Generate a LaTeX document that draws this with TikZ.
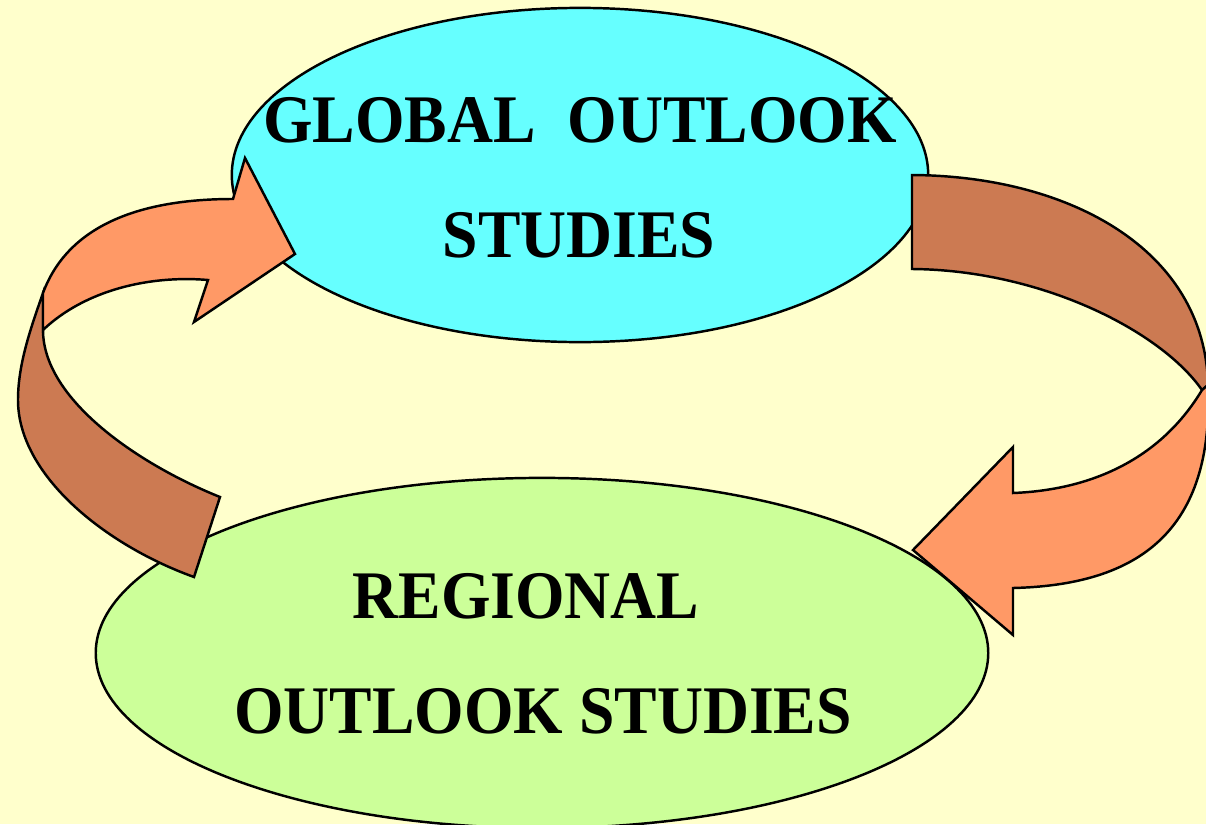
\documentclass[tikz,border=0pt]{standalone}
\usepackage{fontspec}
\setmainfont{Liberation Serif}
\usetikzlibrary{shapes.geometric}
\definecolor{bgc}{HTML}{FFFFCC}
\definecolor{globalc}{HTML}{66FFFF}
\definecolor{regionalc}{HTML}{CCFF99}
\definecolor{arrowlight}{HTML}{FF9966}
\definecolor{arrowdark}{HTML}{CC7A52}
\tikzset{
  blob/.style={ellipse, draw=black, line width=0.7pt, inner sep=0pt},
  lbl/.style={anchor=base, inner sep=0pt, font=\fontsize{19.36pt}{23pt}\selectfont\bfseries},
  darkband/.style={fill=arrowdark, draw=black, line width=0.7pt, line join=miter},
  lightband/.style={fill=arrowlight, draw=black, line width=0.7pt, line join=miter},
}
\newcommand{\sq}[1]{\scalebox{0.935}[1]{#1}}
\begin{document}
\begin{tikzpicture}[x=0.01cm, y=-0.01cm]
\useasboundingbox (0,0) rectangle (1206,824);
\fill[bgc] (0,0) rectangle (1206,824);
% ellipses
\node[blob, fill=globalc, minimum width=6.96cm, minimum height=3.34cm] (global) at (580,175) {};
\node[blob, fill=regionalc, minimum width=8.92cm, minimum height=3.50cm] (regional) at (542,653) {};
% texts
\node[lbl] (t1) at (580,142) {\sq{GLOBAL\ \ OUTLOOK}};
\node[lbl] (t2) at (579,257) {\sq{STUDIES}};
\node[lbl] (t3) at (526,618) {\sq{REGIONAL}};
\node[lbl] (t4) at (543,733) {\sq{OUTLOOK STUDIES}};
% left arrow (from regional up to global)
\coordinate (la1) at (194,577);
\coordinate (la2) at (220,497);
\coordinate (la3) at (43,330);
\coordinate (la4) at (43,293);
\draw[darkband] (la1) -- (la2)
  .. controls (140,465) and (43,400) .. (la3)
  -- (la4)
  .. controls (30,330) and (18,365) .. (18,400)
  .. controls (18,475) and (105,545) .. (la1) -- cycle;
\draw[lightband] (la4)
  .. controls (70,220) and (150,199) .. (233,199)
  -- (245,158) -- (295,254) -- (194,322) -- (208,280)
  .. controls (150,275) and (85,290) .. (la3) -- cycle;
% right arrow (from global down to regional)
\coordinate (ra1) at (912,175);
\coordinate (ra2) at (912,269);
\coordinate (ra3) at (1208,385);
\coordinate (ra4) at (1202,390);
\draw[darkband] (ra1)
  .. controls (1070,176) and (1205,250) .. (ra3)
  -- (ra4)
  .. controls (1160,330) and (1040,270) .. (ra2) -- cycle;
\draw[lightband] (ra3)
  .. controls (1214,530) and (1140,585) .. (1013,588)
  -- (1013,635) -- (913,550) -- (1013,447) -- (1013,493)
  .. controls (1090,490) and (1160,460) .. (ra4) -- cycle;
\end{tikzpicture}
\end{document}
